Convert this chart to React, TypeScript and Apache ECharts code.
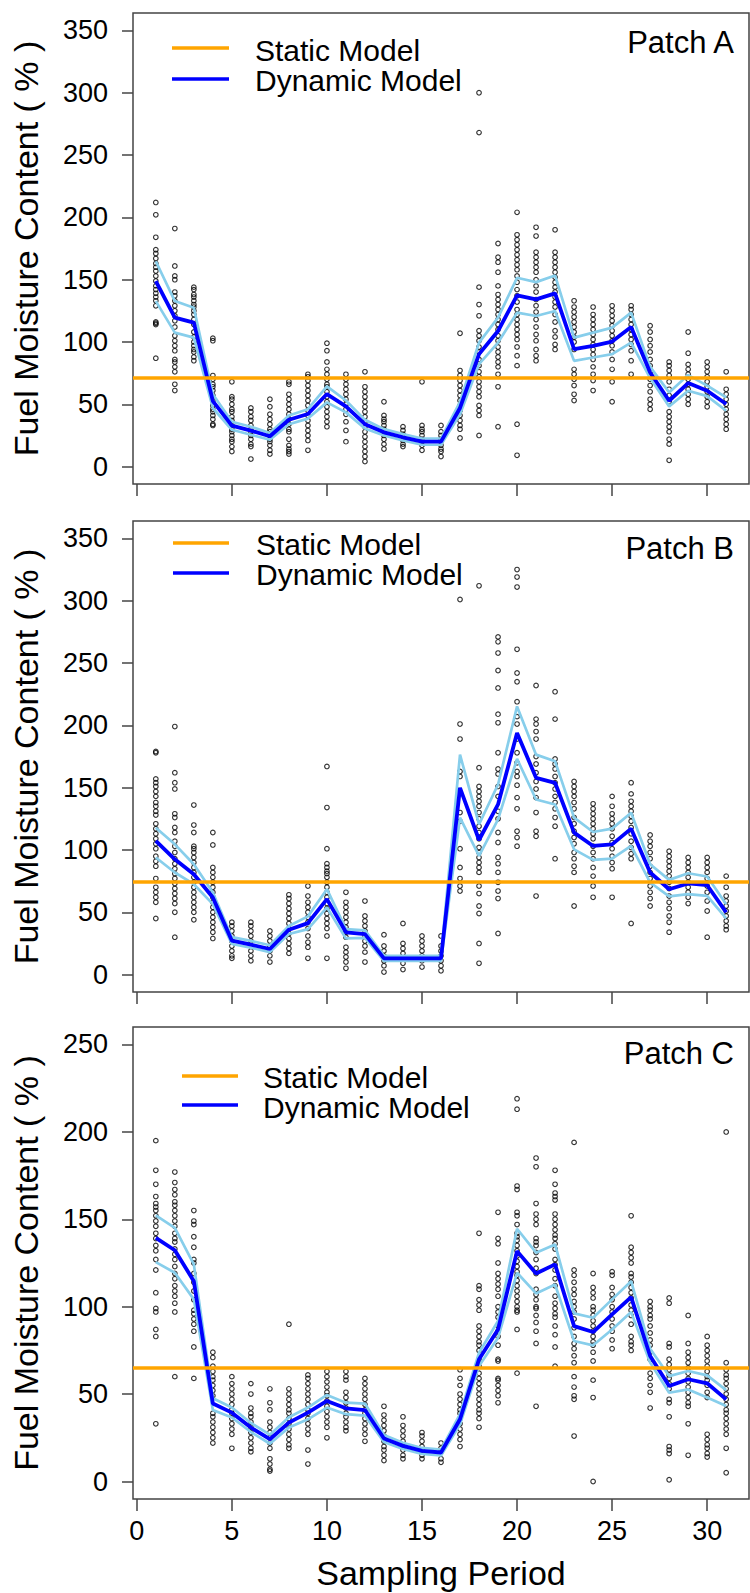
import React, { useEffect, useRef } from "react";
import * as echarts from "echarts";

// Sampling periods and axis ticks
const periods = [1, 2, 3, 4, 5, 6, 7, 8, 9, 10, 11, 12, 13, 14, 15, 16, 17, 18, 19, 20, 21, 22, 23, 24, 25, 26, 27, 28, 29, 30, 31];
const xTicks = [0, 5, 10, 15, 20, 25, 30];
const yTicksAB = [0, 50, 100, 150, 200, 250, 300, 350];
const yTicksC = [0, 50, 100, 150, 200, 250];

// Static model levels
const staticA = 71.5;
const staticB = 74.4;
const staticC = 65;

// Patch A: dynamic model fit and its interval
const fitA = [148.8, 119.5, 115.5, 52.5, 32.8, 28.8, 24.3, 37.6, 42.2, 58.2, 48.3, 34, 27.5, 23.5, 20, 20, 47, 90.2, 108.8, 137.4, 134.2, 139, 94.2, 96.8, 100.3, 112, 75.5, 52.8, 67, 60.8, 50.2];
const upperA = [164.8, 132.8, 127.5, 58, 36, 32, 27, 41, 46, 64.3, 53, 37.5, 30, 26, 22.5, 22.5, 52, 99.5, 119.5, 151.5, 148, 153.4, 103.5, 107.5, 111.5, 123.5, 80, 59.5, 73.4, 65, 55.5];
const lowerA = [132.8, 107.5, 103.5, 47, 29.5, 25.5, 21.5, 34, 38.5, 51.5, 43.5, 30.5, 25, 21, 17.5, 17.5, 42, 82.2, 99.5, 123.5, 120.8, 124.8, 84.8, 87.5, 90.2, 99.5, 71, 48.3, 60.8, 56.5, 44.8];
const obsA = [
  [212, 202, 184, 174, 171, 167, 163, 160, 157, 153, 149, 145, 142, 139, 136, 133, 129, 116, 115, 114, 87],
  [191, 161, 153, 150, 140, 137, 133, 129, 125, 121, 117, 112, 105, 101, 97, 93, 86, 84, 80, 76, 66, 61],
  [144, 142, 138, 136, 133, 130, 128, 125, 122, 118, 114, 108, 104, 100, 97, 94, 92, 88, 85],
  [103, 101, 73, 70, 66, 64, 61, 57, 53, 49, 46, 44, 41, 38, 34, 33],
  [68, 56, 54, 50, 46, 44, 40, 37, 33, 30, 28, 25, 22, 20, 16, 12],
  [47, 44, 40, 37, 33, 30, 28, 25, 22, 18, 16, 6],
  [54, 48, 42, 38, 34, 30, 28, 25, 22, 20, 17, 13, 10],
  [68, 66, 58, 54, 50, 46, 42, 38, 34, 30, 28, 22, 17, 14, 12, 10],
  [74, 72, 69, 65, 61, 57, 53, 49, 45, 41, 37, 33, 29, 25, 21, 13],
  [99, 93, 84, 78, 74, 70, 66, 64, 60, 56, 52, 48, 44, 40, 36, 32],
  [74, 70, 66, 62, 58, 54, 50, 46, 42, 36, 29, 20],
  [76, 64, 60, 56, 52, 48, 44, 40, 36, 32, 28, 24, 20, 16, 12, 8, 4],
  [52, 41, 38, 36, 33, 30, 28, 25, 22, 18, 14],
  [32, 29, 26, 24, 21, 18, 16],
  [68, 33, 30, 28, 25, 22, 20, 17, 13],
  [33, 28, 25, 22, 20, 17, 14, 12, 8],
  [107, 77, 73, 69, 65, 61, 57, 53, 49, 45, 41, 37, 33, 30, 23],
  [300, 268, 144, 130, 121, 109, 105, 101, 96, 92, 86, 81, 76, 72, 68, 64, 60, 56, 49, 45, 41, 25],
  [179, 168, 164, 156, 145, 138, 134, 130, 126, 122, 118, 114, 110, 105, 101, 96, 92, 88, 84, 80, 74, 64, 32],
  [204, 186, 182, 178, 174, 170, 166, 162, 158, 153, 148, 142, 137, 132, 126, 122, 118, 114, 110, 106, 102, 96, 89, 81, 34, 9],
  [192, 185, 172, 168, 164, 160, 156, 150, 145, 140, 134, 129, 124, 118, 112, 106, 101, 94, 89, 85],
  [190, 172, 168, 164, 160, 156, 152, 148, 144, 140, 136, 132, 128, 122, 116, 109, 104, 98, 94],
  [133, 128, 124, 120, 116, 112, 108, 104, 100, 94, 78, 74, 70, 65, 58, 53],
  [128, 122, 118, 114, 110, 106, 102, 98, 94, 90, 86, 80, 74, 69, 61],
  [129, 125, 121, 117, 113, 109, 105, 101, 97, 92, 86, 78, 68, 52],
  [129, 126, 122, 118, 114, 110, 106, 102, 98, 93, 85, 74],
  [113, 108, 102, 97, 92, 86, 81, 76, 70, 65, 60, 54, 50, 46],
  [84, 81, 77, 73, 68, 62, 57, 52, 44, 40, 36, 32, 28, 22, 18, 5],
  [108, 91, 82, 78, 74, 70, 66, 62, 58, 54, 50],
  [84, 80, 76, 72, 68, 64, 60, 56, 52, 48],
  [76, 62, 58, 54, 50, 46, 42, 38, 34, 30],
];

// Patch B
const fitB = [107.2, 92.5, 80.5, 61.9, 27.2, 24, 20.5, 36, 41.3, 60.5, 33.9, 32.5, 13, 13, 13, 13, 149.9, 108, 136.5, 193.9, 157.9, 153.9, 113.9, 103.2, 104.5, 117.1, 81.9, 68.5, 73.1, 71.7, 49.9];
const upperB = [117.9, 104.5, 88.5, 65.9, 30, 27, 23.5, 39, 46.7, 68.5, 36.5, 35.5, 15, 15, 15, 15, 176.5, 120.5, 152.5, 215.2, 176.5, 171.2, 125.9, 114.4, 117.1, 129.9, 88.5, 76, 81.3, 78.7, 56.5];
const lowerB = [93.9, 81.9, 72.5, 56.5, 24.5, 21.5, 18, 32.5, 36.5, 53.9, 29, 29.5, 11, 11, 11, 11, 125.9, 95.2, 124.5, 173.1, 140.5, 136.5, 100.5, 92, 93.1, 103.2, 73.9, 62.7, 64.5, 63.2, 45];
const obsB = [
  [179, 178, 157, 154, 151, 147, 143, 138, 135, 131, 128, 121, 117, 113, 109, 105, 101, 95, 91, 87, 77, 70, 66, 62, 58, 45],
  [199, 162, 154, 149, 129, 126, 118, 114, 107, 103, 98, 93, 89, 85, 81, 77, 73, 69, 65, 61, 57, 50, 30],
  [136, 120, 114, 103, 101, 98, 94, 90, 86, 82, 78, 74, 70, 66, 62, 58, 54, 50, 44],
  [114, 104, 86, 82, 78, 74, 70, 66, 62, 58, 54, 50, 46, 42, 38, 34, 29],
  [42, 39, 35, 31, 27, 23, 19, 15, 13],
  [42, 39, 35, 31, 27, 23, 19, 15, 11],
  [35, 31, 27, 23, 19, 15, 10],
  [64, 61, 57, 53, 49, 45, 41, 37, 33, 29, 25, 21, 17],
  [71, 63, 58, 54, 50, 46, 42, 37, 31, 26, 22, 13],
  [167, 134, 101, 89, 86, 83, 81, 78, 74, 70, 66, 62, 57, 53, 49, 45, 41, 37, 31, 13],
  [66, 58, 54, 50, 46, 42, 38, 34, 30, 22, 18, 14, 10, 5],
  [59, 47, 43, 39, 35, 31, 27, 23, 18, 10],
  [32, 23, 19, 15, 11, 7, 2],
  [41, 25, 21, 17, 13, 9, 4],
  [31, 27, 23, 19, 15, 11, 6],
  [31, 23, 19, 15, 11, 7, 3],
  [301, 201, 189, 163, 159, 130, 123, 101, 86, 77, 71, 67],
  [312, 166, 151, 147, 143, 139, 135, 130, 125, 119, 114, 109, 102, 98, 94, 90, 86, 82, 71, 65, 55, 49, 25, 9],
  [271, 267, 258, 244, 230, 209, 202, 178, 165, 161, 151, 143, 131, 125, 114, 106, 94, 89, 82, 74, 67, 61, 33],
  [325, 319, 311, 261, 242, 235, 219, 207, 201, 189, 178, 170, 163, 159, 152, 142, 133, 115, 110, 103],
  [232, 205, 201, 195, 189, 175, 169, 162, 155, 149, 142, 130, 115, 111, 63],
  [227, 205, 173, 169, 165, 159, 154, 149, 143, 138, 133, 126, 119, 93],
  [155, 151, 147, 143, 138, 133, 126, 121, 115, 110, 105, 98, 93, 87, 82, 55],
  [137, 133, 129, 125, 121, 117, 113, 109, 103, 98, 93, 86, 79, 71, 62],
  [143, 135, 129, 125, 121, 117, 111, 106, 101, 95, 90, 85, 62],
  [154, 145, 139, 135, 131, 127, 123, 118, 113, 107, 102, 97, 93, 41],
  [112, 107, 103, 98, 93, 87, 82, 77, 71, 66, 61, 55],
  [99, 95, 91, 87, 83, 79, 74, 69, 63, 58, 53, 47, 42, 34],
  [94, 90, 86, 82, 78, 74, 70, 66, 62, 57],
  [94, 90, 86, 82, 77, 71, 66, 59, 51, 30],
  [79, 70, 63, 59, 55, 51, 47, 43, 39, 36],
];

// Patch C
const fitC = [139.4, 132.3, 114.6, 44.6, 39.4, 30.9, 24.2, 33.7, 39.4, 46.1, 41.9, 40.9, 24.6, 20.4, 17.5, 16.6, 35.6, 69.9, 87, 131.8, 119, 124.2, 88.9, 85.5, 95.6, 105.5, 71.8, 54.6, 58.5, 56.2, 47];
const upperC = [152.2, 145.1, 124.2, 47.6, 42.3, 33.5, 26.8, 36.8, 42.3, 49.5, 45.1, 44.6, 26.6, 22.2, 19.2, 18.3, 38.5, 73.7, 91.8, 144.6, 130.9, 135.6, 96.2, 93.7, 104.2, 114.6, 76, 60.3, 63.2, 60.7, 52.3];
const lowerC = [125.5, 119.4, 104.2, 40.9, 36.6, 28.3, 21.6, 30.9, 35.6, 42.3, 38.5, 37.7, 22.6, 18.6, 15.8, 14.9, 32.7, 66.1, 82.3, 119.4, 107.6, 112.7, 80.4, 77.9, 87, 96.9, 68, 50.8, 52.7, 48, 43.2];
const obsC = [
  [195, 178, 170, 163, 159, 157, 155, 152, 149, 146, 142, 139, 135, 132, 127, 121, 108, 99, 97, 87, 83, 33],
  [177, 171, 167, 164, 160, 158, 155, 152, 149, 146, 142, 139, 137, 133, 130, 127, 123, 119, 116, 112, 109, 106, 102, 97, 60],
  [155, 149, 147, 140, 134, 127, 125, 119, 114, 109, 104, 98, 96, 93, 90, 86, 77, 59],
  [74, 71, 66, 63, 60, 58, 55, 52, 49, 39, 37, 34, 31, 28, 25, 22],
  [60, 56, 53, 50, 47, 44, 41, 39, 36, 33, 30, 27, 19],
  [56, 50, 42, 39, 37, 34, 31, 28, 25, 22, 19, 17],
  [53, 45, 41, 34, 31, 28, 25, 22, 19, 13, 10, 7, 6],
  [90, 53, 50, 47, 44, 41, 39, 36, 33, 30, 27, 24, 21, 19],
  [61, 59, 56, 53, 50, 47, 44, 41, 39, 36, 33, 30, 27, 18, 10],
  [63, 60, 57, 54, 51, 49, 46, 43, 40, 37, 34, 31, 25],
  [63, 60, 58, 51, 48, 45, 42, 39, 37, 34, 31, 29],
  [59, 56, 53, 50, 47, 44, 41, 39, 36, 33, 30, 27, 23],
  [43, 38, 35, 32, 29, 26, 23, 20, 18, 15, 12],
  [37, 32, 29, 26, 23, 20, 18, 15, 13],
  [28, 26, 23, 20, 18, 15, 13],
  [22, 19, 17, 13, 11],
  [64, 59, 55, 50, 47, 44, 41, 39, 36, 33, 30, 27, 24, 20],
  [142, 112, 110, 104, 101, 98, 89, 86, 83, 80, 78, 75, 70, 66, 62, 59, 56, 53, 50, 47, 44, 41, 39, 36, 31],
  [154, 139, 136, 125, 119, 116, 113, 110, 106, 100, 97, 94, 89, 86, 83, 78, 70, 69, 59, 58, 55, 52, 49, 45],
  [219, 213, 169, 167, 154, 152, 147, 142, 140, 138, 135, 132, 129, 126, 123, 120, 118, 115, 112, 109, 106, 103, 100, 98, 97, 87, 62],
  [185, 180, 159, 153, 150, 147, 139, 137, 135, 131, 127, 122, 119, 110, 107, 104, 100, 99, 95, 91, 86, 79, 43],
  [178, 170, 165, 163, 161, 153, 150, 147, 144, 141, 139, 136, 133, 127, 124, 121, 116, 112, 106, 102, 99, 96, 94, 89, 84, 77, 66],
  [194, 121, 118, 114, 110, 107, 103, 100, 97, 93, 88, 83, 79, 76, 72, 68, 60, 54, 49, 47, 26],
  [119, 111, 108, 105, 100, 98, 95, 92, 89, 86, 83, 80, 78, 74, 69, 58, 48, 0],
  [120, 118, 111, 107, 104, 100, 97, 93, 89, 86, 81, 76],
  [152, 134, 131, 128, 125, 119, 117, 114, 111, 108, 105, 101, 98, 95, 90, 83, 80, 78, 75],
  [103, 100, 98, 95, 93, 89, 85, 81, 78, 74, 70, 62, 59, 55, 51, 42],
  [105, 102, 79, 77, 70, 67, 64, 61, 59, 56, 53, 47, 45, 37, 20, 18, 16, 1],
  [95, 79, 74, 71, 68, 65, 62, 59, 57, 54, 51, 48, 45, 43, 33, 15],
  [83, 78, 75, 72, 69, 66, 63, 60, 58, 55, 51, 48, 27, 24, 21, 19, 16, 14],
  [200, 68, 64, 61, 59, 56, 53, 50, 47, 44, 41, 39, 36, 33, 30, 27, 19, 5],
];

const FONT = "'Liberation Sans', Arial, Helvetica, sans-serif";
const ORANGE = "#FFA500";
const BLUE = "#0000FF";
const SKY = "#87CEEB";
const INK = "#000000";
const FRAME = "#444444";

interface Panel {
  label: string;
  top: number;
  height: number;
  yMin: number;
  yMax: number;
  yTicks: number[];
  fit: number[];
  upper: number[];
  lower: number[];
  obs: number[][];
  staticLevel: number;
  showXLabels: boolean;
  legend: { x1: number; x2: number; textX: number; y1: number; y2: number; t1: number; t2: number };
  labelY: number;
}

const GRID_LEFT = 133;
const GRID_WIDTH = 616;

const panels: Panel[] = [
  {
    label: "Patch A", top: 13, height: 471, yMin: -14, yMax: 364, yTicks: yTicksAB,
    fit: fitA, upper: upperA, lower: lowerA, obs: obsA, staticLevel: staticA, showXLabels: false,
    legend: { x1: 172, x2: 229, textX: 255, y1: 48, y2: 79, t1: 50, t2: 80 }, labelY: 42,
  },
  {
    label: "Patch B", top: 521, height: 471, yMin: -14, yMax: 364, yTicks: yTicksAB,
    fit: fitB, upper: upperB, lower: lowerB, obs: obsB, staticLevel: staticB, showXLabels: false,
    legend: { x1: 173, x2: 229, textX: 256, y1: 543, y2: 573, t1: 544.5, t2: 574.5 }, labelY: 548,
  },
  {
    label: "Patch C", top: 1027, height: 472, yMin: -10, yMax: 260, yTicks: yTicksC,
    fit: fitC, upper: upperC, lower: lowerC, obs: obsC, staticLevel: staticC, showXLabels: true,
    legend: { x1: 182, x2: 238, textX: 263, y1: 1076, y2: 1105, t1: 1077, t2: 1107 }, labelY: 1053,
  },
];

const toLine = (vals: number[]) => periods.map((p, i) => [p, vals[i]]);

function buildOption() {
  const grid: any[] = [];
  const xAxis: any[] = [];
  const yAxis: any[] = [];
  const series: any[] = [];
  const graphic: any[] = [];

  panels.forEach((pn, i) => {
    grid.push({
      left: GRID_LEFT, top: pn.top, width: GRID_WIDTH, height: pn.height,
      show: true, borderColor: FRAME, borderWidth: 1.5, backgroundColor: "transparent",
    });
    xAxis.push({
      type: "value", gridIndex: i, min: -0.2, max: 32.2, position: "bottom",
      axisLine: { show: false, onZero: false },
      splitLine: { show: false },
      axisTick: { show: true, customValues: xTicks, length: 12, lineStyle: { color: FRAME, width: 1.5 } },
      axisLabel: {
        show: pn.showXLabels, customValues: xTicks, fontSize: 27, color: INK,
        fontFamily: FONT, margin: 18,
      },
    });
    yAxis.push({
      type: "value", gridIndex: i, min: pn.yMin, max: pn.yMax, position: "left",
      axisLine: { show: false, onZero: false },
      splitLine: { show: false },
      axisTick: { show: true, customValues: pn.yTicks, length: 11, lineStyle: { color: FRAME, width: 1.5 } },
      axisLabel: { show: true, customValues: pn.yTicks, fontSize: 27, color: INK, fontFamily: FONT, margin: 25 },
    });

    const points: number[][] = [];
    pn.obs.forEach((vals, k) => vals.forEach((v) => points.push([periods[k], v])));

    series.push({
      type: "scatter", xAxisIndex: i, yAxisIndex: i, data: points,
      symbol: "circle", symbolSize: 4.6, z: 2,
      itemStyle: { color: "rgba(255,255,255,0)", borderColor: INK, borderWidth: 1.15 },
      markLine: {
        silent: true, symbol: ["none", "none"], label: { show: false },
        lineStyle: { color: ORANGE, width: 3.5, type: "solid" },
        data: [{ yAxis: pn.staticLevel }],
      },
    });
    [pn.upper, pn.lower].forEach((band) => {
      series.push({
        type: "line", xAxisIndex: i, yAxisIndex: i, data: toLine(band),
        symbol: "none", z: 3, lineStyle: { color: SKY, width: 2.7 },
      });
    });
    series.push({
      type: "line", xAxisIndex: i, yAxisIndex: i, data: toLine(pn.fit),
      symbol: "none", z: 4, lineStyle: { color: BLUE, width: 3.8 },
    });

    // legend
    const lg = pn.legend;
    graphic.push(
      { type: "line", shape: { x1: lg.x1, y1: lg.y1, x2: lg.x2, y2: lg.y1 }, style: { stroke: ORANGE, lineWidth: 3.5 }, z: 10 },
      { type: "line", shape: { x1: lg.x1, y1: lg.y2, x2: lg.x2, y2: lg.y2 }, style: { stroke: BLUE, lineWidth: 3.5 }, z: 10 },
      {
        type: "text", x: lg.textX, y: lg.t1, z: 10,
        style: { text: "Static Model", font: `30px ${FONT}`, fill: INK, align: "left", verticalAlign: "middle", textAlign: "left", textVerticalAlign: "middle" },
      },
      {
        type: "text", x: lg.textX, y: lg.t2, z: 10,
        style: { text: "Dynamic Model", font: `30px ${FONT}`, fill: INK, align: "left", verticalAlign: "middle", textAlign: "left", textVerticalAlign: "middle" },
      },
      {
        type: "text", x: 734, y: pn.labelY, z: 10,
        style: { text: pn.label, font: `31px ${FONT}`, fill: INK, align: "right", verticalAlign: "middle", textAlign: "right", textVerticalAlign: "middle" },
      },
      {
        type: "text", x: 26, y: pn.top + pn.height / 2, rotation: Math.PI / 2, z: 10,
        style: { text: "Fuel Moisture Content ( % )", font: `34px ${FONT}`, fill: INK, align: "center", verticalAlign: "middle", textAlign: "center", textVerticalAlign: "middle" },
      }
    );
  });

  graphic.push({
    type: "text", x: GRID_LEFT + GRID_WIDTH / 2, y: 1573, z: 10,
    style: { text: "Sampling Period", font: `34px ${FONT}`, fill: INK, align: "center", verticalAlign: "middle", textAlign: "center", textVerticalAlign: "middle" },
  });

  return {
    animation: false,
    backgroundColor: "#ffffff",
    grid, xAxis, yAxis, series, graphic,
  };
}

export default function App() {
  const ref = useRef<HTMLDivElement | null>(null);
  useEffect(() => {
    document.body.style.margin = "0";
    if (!ref.current) return;
    const chart = echarts.init(ref.current, null, { renderer: "svg" });
    chart.setOption(buildOption() as any);
    return () => chart.dispose();
  }, []);
  return <div ref={ref} style={{ width: 750, height: 1593 }} />;
}
